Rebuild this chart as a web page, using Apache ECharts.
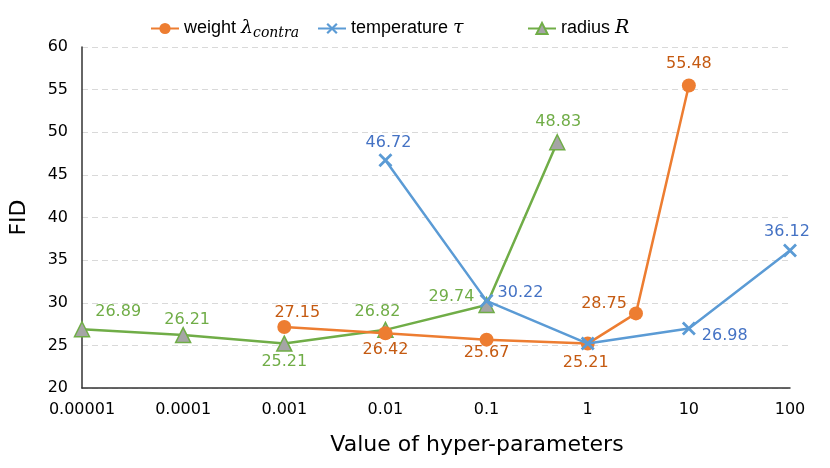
<!DOCTYPE html>
<html>
<head>
<meta charset="utf-8">
<script src="https://cdn.jsdelivr.net/npm/echarts@6/dist/echarts.min.js"></script>
<style>
  html, body { margin: 0; padding: 0; background: #fff; }
  #chart { width: 830px; height: 468px; }
</style>
</head>
<body>
<div id="chart"></div>
<script>
// tick labels of the log x axis
var tickLabels = ['0.00001', '0.0001', '0.001', '0.01', '0.1', '1', '10', '100'];

// weight lambda_contra
var weightX = [0.001, 0.01, 0.1, 1, 3, 10];
var weightY = [27.15, 26.42, 25.67, 25.21, 28.75, 55.48];

// temperature tau
var tempX = [0.01, 0.1, 1, 10, 100];
var tempY = [46.72, 30.22, 25.21, 26.98, 36.12];

// radius R
var radiusX = [0.00001, 0.0001, 0.001, 0.01, 0.1, 0.5];
var radiusY = [26.89, 26.21, 25.21, 26.82, 29.74, 48.83];

var FONT = 'DejaVu Sans';

// label placement per point: [position, dx, dy] (null = no label)
function pts(xs, ys, place) {
  return xs.map(function (x, i) {
    var item = { value: [x, ys[i]] };
    var p = place[i];
    if (!p) item.label = { show: false };
    else item.label = { position: p[0], offset: [p[1], p[2]] };
    return item;
  });
}

var crossPath = 'path://M0,1.4L1.4,0L5,3.6L8.6,0L10,1.4L6.4,5L10,8.6L8.6,10L5,6.4L1.4,10L0,8.6L3.6,5Z';

var legendText = {
  fontFamily: 'Liberation Sans', fontSize: 18, color: '#000',
  rich: {
    lam: { fontFamily: 'DejaVu Serif', fontStyle: 'italic', fontSize: 19, color: '#000' },
    sub: { fontFamily: 'DejaVu Serif', fontStyle: 'italic', fontSize: 14, color: '#000', padding: [10, 0, 0, 0] }
  }
};
function legendFmt(name) {
  if (name === 'weight') return 'weight {lam|λ}{sub|contra}';
  if (name === 'temperature') return 'temperature {lam|τ}';
  return 'radius {lam|R}';
}

var chart = echarts.init(document.getElementById('chart'));
chart.setOption({
  animation: false,
  textStyle: { fontFamily: FONT },
  grid: { left: 82, right: 40, top: 47, bottom: 80 },
  legend: [
    {
      left: 145, top: 14, itemWidth: 28, itemHeight: 14, itemGap: 18,
      formatter: legendFmt, textStyle: legendText,
      data: ['weight', 'temperature']
    },
    {
      left: 522, top: 14, itemWidth: 28, itemHeight: 14,
      formatter: legendFmt, textStyle: legendText,
      data: ['radius']
    }
  ],
  xAxis: {
    type: 'log',
    logBase: 10,
    min: 0.00001,
    max: 100,
    name: 'Value of hyper-parameters',
    nameLocation: 'middle',
    nameGap: 46,
    nameTextStyle: { fontFamily: FONT, fontSize: 22, color: '#000', padding: [0, 0, 0, 82] },
    axisLine: { lineStyle: { color: '#333', width: 1.5 } },
    axisTick: { show: false },
    splitLine: { show: false },
    axisLabel: {
      fontSize: 16, color: '#000', margin: 14,
      formatter: function (v) {
        var k = Math.round(Math.log10(v)) + 5;
        return tickLabels[k] || '';
      }
    }
  },
  yAxis: {
    type: 'value',
    min: 20,
    max: 60,
    interval: 5,
    name: 'FID',
    nameLocation: 'middle',
    nameGap: 52,
    nameTextStyle: { fontFamily: FONT, fontSize: 22, color: '#000' },
    axisLine: { show: true, lineStyle: { color: '#333', width: 1.5 } },
    axisTick: { show: false },
    axisLabel: { fontSize: 16, color: '#000', margin: 14 },
    splitLine: { lineStyle: { color: '#D9D9D9', type: [6, 4], width: 1 } }
  },
  series: [
    {
      name: 'weight',
      type: 'line',
      symbol: 'circle',
      symbolSize: 14,
      lineStyle: { color: '#ED7D31', width: 2.5 },
      itemStyle: { color: '#ED7D31' },
      label: { show: true, fontSize: 16, color: '#C55A11', distance: 2 },
      data: pts(weightX, weightY, [
        ['top', 13, 3], ['bottom', 0, 0], ['bottom', 0, -4],
        ['bottom', -2, 2], ['left', 0, -10], ['top', 0, -5]
      ]),
      z: 3
    },
    {
      name: 'temperature',
      type: 'line',
      symbol: crossPath,
      symbolSize: 14,
      lineStyle: { color: '#5B9BD5', width: 2.5 },
      itemStyle: { color: '#5B9BD5' },
      label: { show: true, fontSize: 16, color: '#4472C4', distance: 2 },
      data: pts(tempX, tempY, [
        ['top', 3, 0], ['right', 2, -8], null, ['right', 4, 7], ['top', -3, -2]
      ]),
      z: 4
    },
    {
      name: 'radius',
      type: 'line',
      symbol: 'triangle',
      symbolSize: 15,
      lineStyle: { color: '#70AD47', width: 2.5 },
      itemStyle: { color: '#A5A5A5', borderColor: '#70AD47', borderWidth: 1.5 },
      label: { show: true, fontSize: 16, color: '#70AD47', distance: 2 },
      data: pts(radiusX, radiusY, [
        ['right', 3, -17], ['top', 4, 3], ['bottom', 0, 0],
        ['top', -8, 0], ['left', -2, -8], ['top', 1, -2]
      ]),
      z: 2
    }
  ]
});
</script>
</body>
</html>
